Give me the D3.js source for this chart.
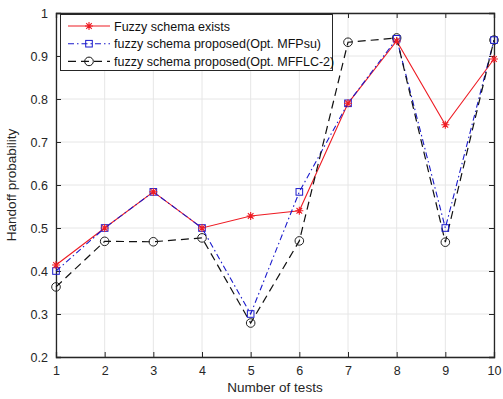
<!DOCTYPE html>
<html><head><meta charset="utf-8">
<script src="https://cdn.jsdelivr.net/npm/d3@7"></script>
<style>body{margin:0;background:#fff}svg{display:block}text{font-family:"Liberation Sans",Arial,sans-serif}</style>
</head><body>
<svg id="c" width="503" height="399"></svg>
<script>
const tests = [1,2,3,4,5,6,7,8,9,10];
const existsVals = [0.414,0.50,0.584,0.50,0.528,0.54,0.79,0.935,0.74,0.893];
const mfpsuVals = [0.40,0.50,0.584,0.50,0.30,0.584,0.79,0.94,0.50,0.937];
const mfflcVals = [0.363,0.469,0.468,0.477,0.279,0.47,0.932,0.942,0.467,0.937];
const yTicks = [0.2,0.3,0.4,0.5,0.6,0.7,0.8,0.9,1];
const seriesNames = ["Fuzzy schema exists","fuzzy schema proposed(Opt. MFPsu)","fuzzy schema proposed(Opt. MFFLC-2)"];

const svg = d3.select("#c");
const L=56,R=494,T=13,B=357;
const x = d3.scaleLinear().domain([1,10]).range([L,R]);
const y = d3.scaleLinear().domain([0.2,1]).range([B,T]);
const axisCol="#262626";

// grid
svg.append("g").selectAll("line").data(tests).join("line")
 .attr("x1",d=>x(d)).attr("x2",d=>x(d)).attr("y1",T).attr("y2",B)
 .attr("stroke","#e6e6e6").attr("stroke-width",1);
svg.append("g").selectAll("line").data(yTicks).join("line")
 .attr("x1",L).attr("x2",R).attr("y1",d=>y(d)).attr("y2",d=>y(d))
 .attr("stroke","#e6e6e6").attr("stroke-width",1);

// axes
const fmt = d=> d===1?"1":d3.format(".1f")(d);
const xa = svg.append("g").attr("transform",`translate(0,${B})`).call(d3.axisBottom(x).tickValues(tests).tickSize(-5).tickPadding(9).tickFormat(d3.format("d")));
const ya = svg.append("g").attr("transform",`translate(${L},0)`).call(d3.axisLeft(y).tickValues(yTicks).tickSize(-5).tickPadding(8).tickFormat(fmt));
const xt = svg.append("g").attr("transform",`translate(0,${T})`).call(d3.axisTop(x).tickValues(tests).tickSize(-5).tickFormat(""));
const yr = svg.append("g").attr("transform",`translate(${R},0)`).call(d3.axisRight(y).tickValues(yTicks).tickSize(-5).tickFormat(""));
[xa,ya,xt,yr].forEach(g=>{
  g.select(".domain").attr("stroke",axisCol).attr("stroke-width",1.3);
  g.selectAll(".tick line").attr("stroke",axisCol);
  g.selectAll("text").attr("fill",axisCol).attr("font-size",12.5).attr("font-family","'Liberation Sans',Arial,sans-serif");
});

// lines
const line = vals => d3.line().x((d,i)=>x(tests[i])).y(d=>y(d))(vals);
svg.append("path").attr("d",line(existsVals)).attr("fill","none").attr("stroke","#ee1c24").attr("stroke-width",1.1);
svg.append("path").attr("d",line(mfpsuVals)).attr("fill","none").attr("stroke","#1a1acc").attr("stroke-width",1.1).attr("stroke-dasharray","6,3,1.5,3");
svg.append("path").attr("d",line(mfflcVals)).attr("fill","none").attr("stroke","#111").attr("stroke-width",1.2).attr("stroke-dasharray","8,5");

// markers
function star(g,cx,cy,col){
  const s=4;
  g.append("path").attr("d",`M${cx-s},${cy}H${cx+s}M${cx},${cy-s}V${cy+s}M${cx-s*0.7},${cy-s*0.7}L${cx+s*0.7},${cy+s*0.7}M${cx-s*0.7},${cy+s*0.7}L${cx+s*0.7},${cy-s*0.7}`)
   .attr("stroke",col).attr("stroke-width",1.1).attr("fill","none");
}
function square(g,cx,cy,col){
  g.append("rect").attr("x",cx-3.3).attr("y",cy-3.3).attr("width",6.6).attr("height",6.6).attr("fill","none").attr("stroke",col).attr("stroke-width",1);
}
function circ(g,cx,cy,col){
  g.append("circle").attr("cx",cx).attr("cy",cy).attr("r",4.3).attr("fill","none").attr("stroke",col).attr("stroke-width",1);
}
const mg = svg.append("g");
mfflcVals.forEach((v,i)=>circ(mg,x(tests[i]),y(v),"#222"));
mfpsuVals.forEach((v,i)=>square(mg,x(tests[i]),y(v),"#1a1acc"));
existsVals.forEach((v,i)=>star(mg,x(tests[i]),y(v),"#ee1c24"));

// labels
svg.append("text").attr("x",(L+R)/2).attr("y",392).attr("text-anchor","middle").attr("font-size",13.5).attr("fill",axisCol).text("Number of tests");
svg.append("text").attr("transform",`translate(16,${(T+B)/2}) rotate(-90)`).attr("text-anchor","middle").attr("font-size",13.5).attr("fill",axisCol).text("Handoff probability");

// legend
const lg = svg.append("g");
lg.append("rect").attr("x",60.5).attr("y",14.5).attr("width",272).attr("height",56).attr("fill","#fff").attr("stroke",axisCol).attr("stroke-width",1);
const styles=[{c:"#ee1c24",d:null,m:star},{c:"#1a1acc",d:"6,3,1.5,3",m:square},{c:"#111",d:"8,5",m:circ}];
seriesNames.forEach((n,i)=>{
  const yy=26+i*17.7;
  const p=lg.append("line").attr("x1",68).attr("x2",110).attr("y1",yy).attr("y2",yy).attr("stroke",styles[i].c).attr("stroke-width",1.1);
  if(styles[i].d) p.attr("stroke-dasharray",styles[i].d);
  styles[i].m(lg,89,yy,styles[i].c);
  lg.append("text").attr("x",114).attr("y",yy+4.5).attr("font-size",12.5).attr("fill","#111").text(n);
});
</script>
</body></html>
